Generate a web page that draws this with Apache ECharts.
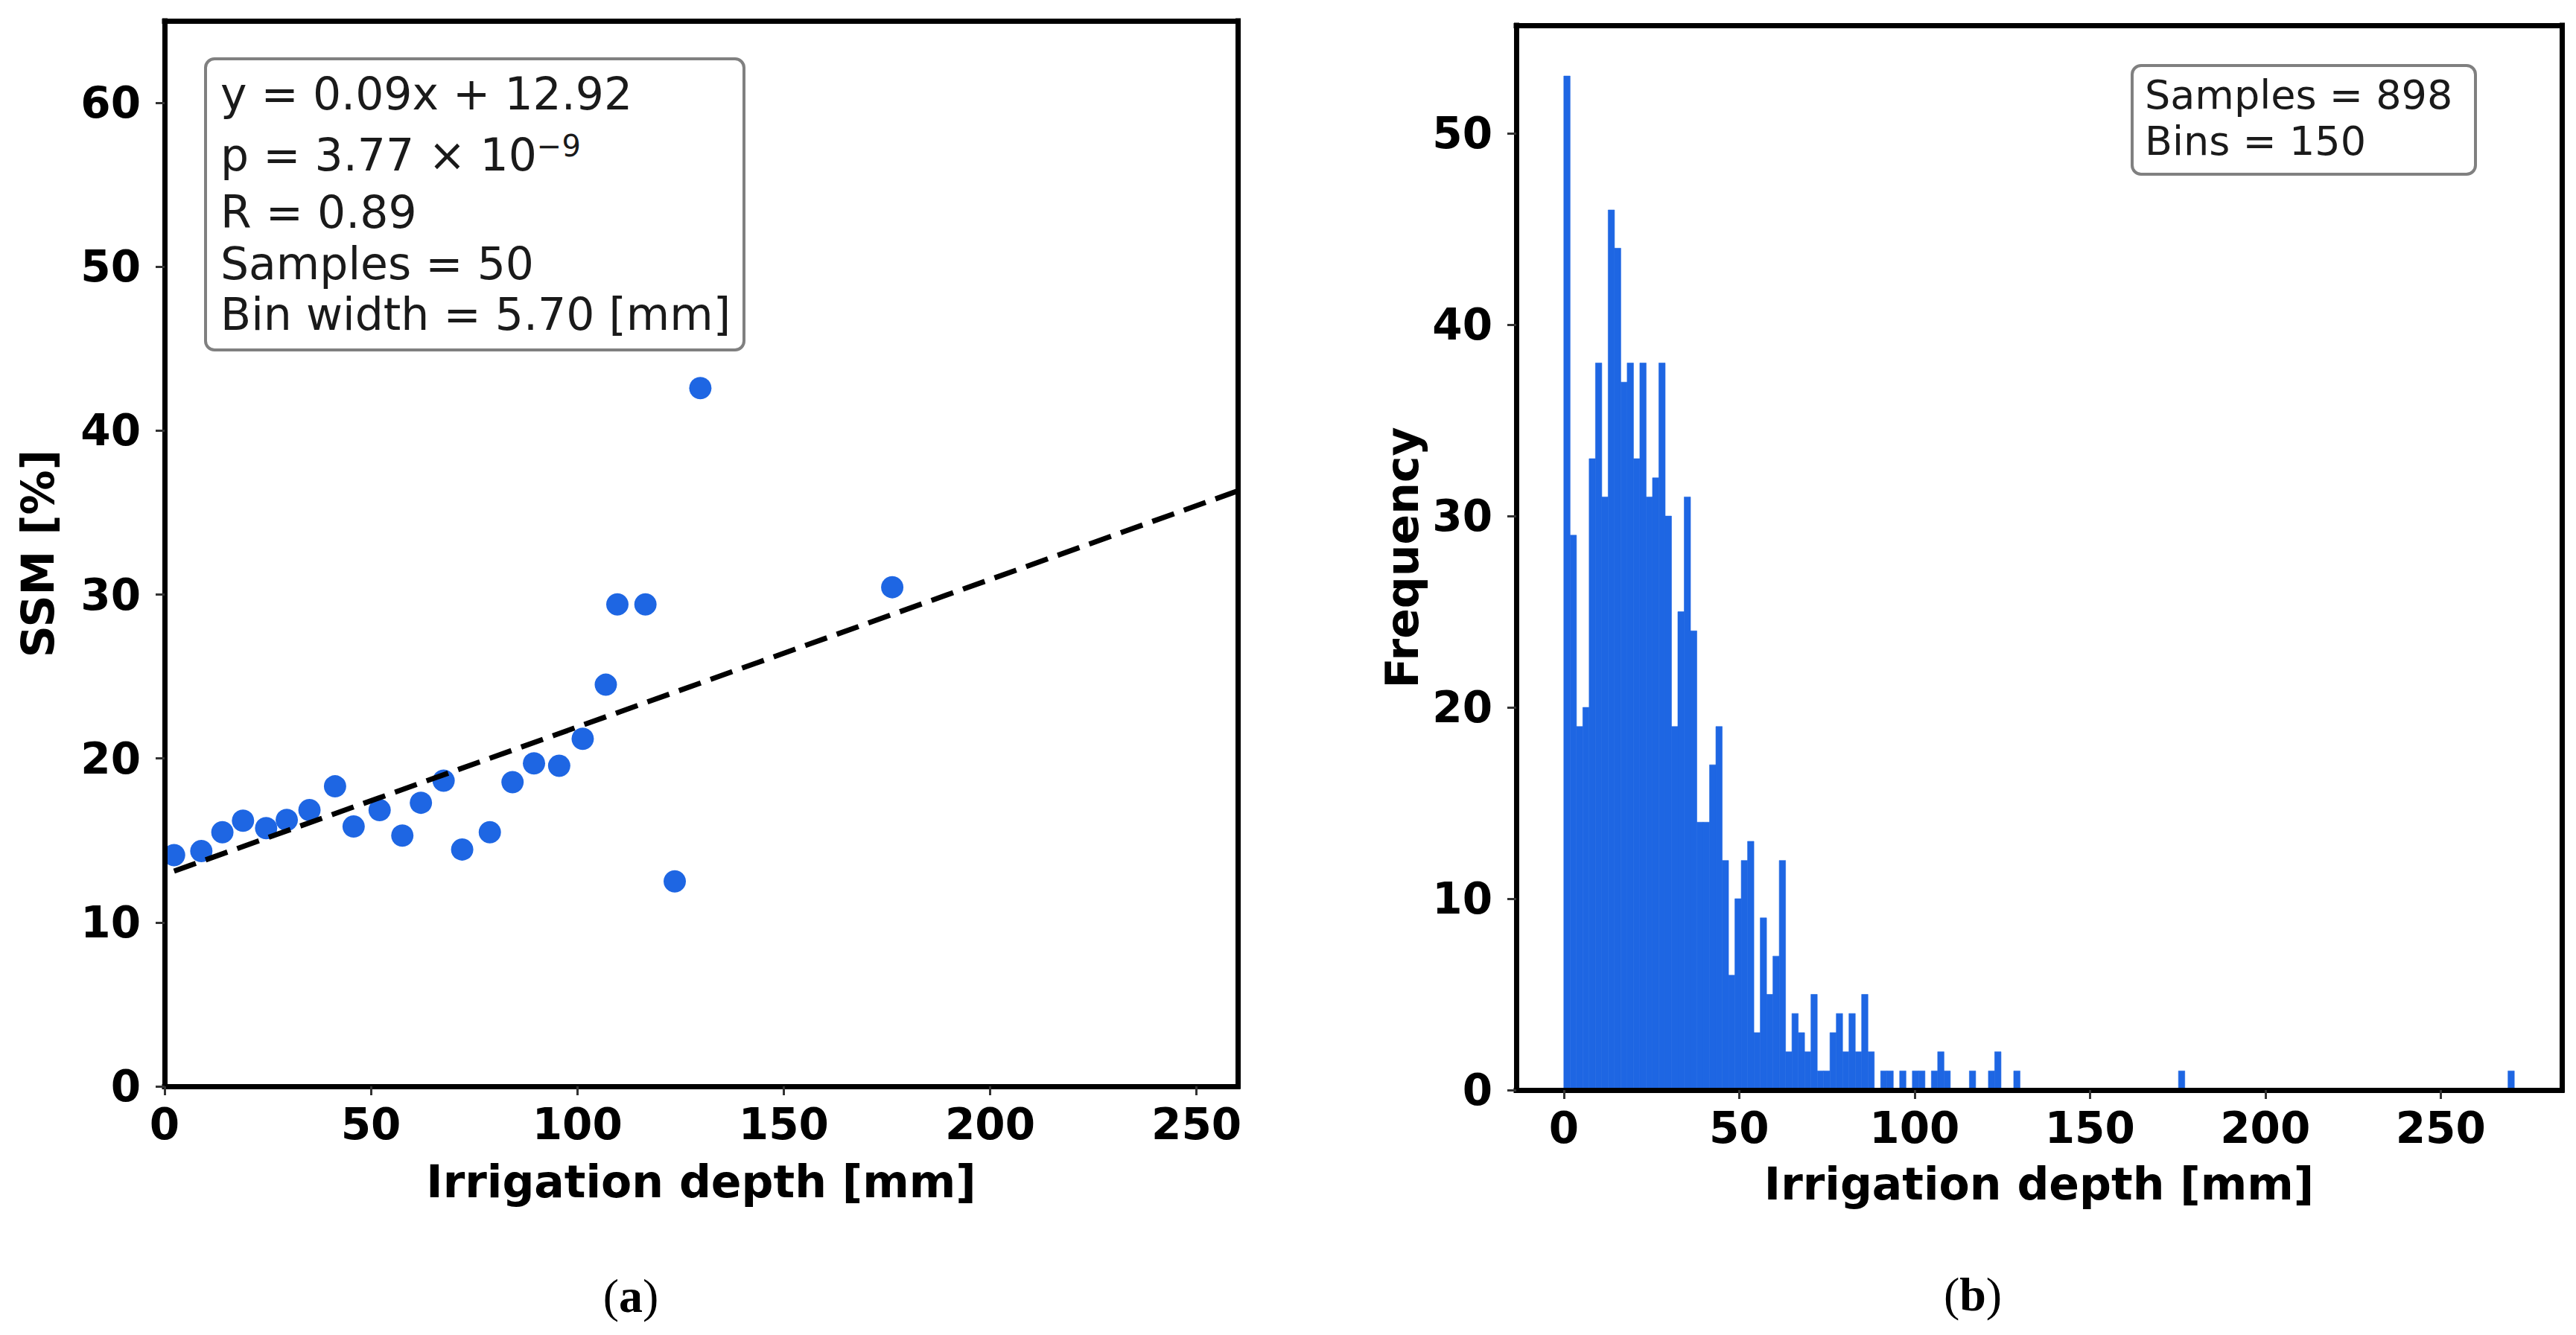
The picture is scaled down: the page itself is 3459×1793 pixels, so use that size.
<!DOCTYPE html>
<html><head><meta charset="utf-8">
<script src="https://cdn.jsdelivr.net/npm/echarts@6/dist/echarts.min.js"></script>
<style>html,body{margin:0;padding:0;background:#fff}#c{width:3459px;height:1793px}</style>
</head><body><div id="c"></div>
<script>
// ---------- Panel (a): binned SSM vs irrigation depth ----------
const scatterX = [2.3, 8.9, 14.0, 19.0, 24.6, 29.6, 35.1, 41.3, 45.8, 52.1, 57.6, 62.1, 67.6, 72.1, 78.8, 84.3, 89.5, 95.6, 101.3, 106.9, 109.7, 116.5, 123.6, 129.8, 176.3];
const scatterY = [14.1, 14.35, 15.5, 16.2, 15.75, 16.25, 16.85, 18.3, 15.85, 16.85, 15.3, 17.3, 18.65, 14.45, 15.5, 18.55, 19.7, 19.55, 21.2, 24.5, 29.4, 29.4, 12.5, 42.6, 30.45];
const fitSlope = 0.09;
const fitIntercept = 12.92;
const fitXRange = [2.3, 270];
const xTicksA = [0, 50, 100, 150, 200, 250];
const yTicksA = [0, 10, 20, 30, 40, 50, 60];
const statsA = ["y = 0.09x + 12.92", "p = 3.77 × 10", "−9", "R = 0.89", "Samples = 50", "Bin width = 5.70 [mm]"];

// ---------- Panel (b): histogram of irrigation depth ----------
const histCounts = [
  53,29,19,20,33,38,31,46,44,37,
  38,33,38,31,32,38,30,19,25,31,
  24,14,14,17,19,12,6,10,12,13,
  3,9,5,7,12,2,4,3,2,5,
  1,1,3,4,2,4,2,5,2,0,
  1,1,0,1,0,1,1,0,1,2,
  1,0,0,0,1,0,0,1,2,0,
  0,1,0,0,0,0,0,0,0,0,
  0,0,0,0,0,0,0,0,0,0,
  0,0,0,0,0,0,0,1,0,0,
  0,0,0,0,0,0,0,0,0,0,
  0,0,0,0,0,0,0,0,0,0,
  0,0,0,0,0,0,0,0,0,0,
  0,0,0,0,0,0,0,0,0,0,
  0,0,0,0,0,0,0,0,0,1
];
const histMin = 0, histMax = 271;
const xTicksB = [0, 50, 100, 150, 200, 250];
const yTicksB = [0, 10, 20, 30, 40, 50];
const statsB = ["Samples = 898", "Bins = 150"];
const captions = ["a", "b"];

// ---------- styling ----------
const BLUE = '#1e66e3';
const FONT = 'DejaVu Sans';
const tickFont = {fontSize: 58, fontWeight: 'bold', fontFamily: FONT, color: '#000'};
const nameFont = {fontSize: 60, fontWeight: 'bold', fontFamily: FONT, color: '#000'};
const frameLine = {show: true, onZero: false, lineStyle: {color: '#000', width: 7, cap: 'square'}};

function mainX(grid, min, max, ticks, name, gap) {
  return {gridIndex: grid, type: 'value', min: min, max: max, position: 'bottom', z: 5,
    axisLine: frameLine,
    axisTick: {show: true, length: 12, customValues: ticks, lineStyle: {color: '#333', width: 3}},
    axisLabel: Object.assign({customValues: ticks, margin: 22}, tickFont),
    splitLine: {show: false},
    name: name, nameLocation: 'middle', nameGap: gap, nameTextStyle: nameFont};
}
function mainY(grid, min, max, ticks, name, gap) {
  return {gridIndex: grid, type: 'value', min: min, max: max, position: 'left', z: 5,
    axisLine: frameLine,
    axisTick: {show: true, length: 12, customValues: ticks, lineStyle: {color: '#333', width: 3}},
    axisLabel: Object.assign({customValues: ticks, margin: 32}, tickFont),
    splitLine: {show: false},
    name: name, nameLocation: 'middle', nameGap: gap, nameTextStyle: nameFont};
}
function frameAxis(grid, min, max, pos) {
  return {gridIndex: grid, type: 'value', min: min, max: max, position: pos, z: 5,
    axisLine: frameLine, axisTick: {show: false}, axisLabel: {show: false}, splitLine: {show: false}};
}

const scatterData = scatterX.map((x, i) => [x, scatterY[i]]);
const fitData = fitXRange.map(x => [x, fitIntercept + fitSlope * x]);
const binW = (histMax - histMin) / histCounts.length;
const histData = [];
histCounts.forEach((c, i) => { if (c > 0) histData.push([histMin + i * binW, histMin + (i + 1) * binW, c]); });
const histPad = (histMax - histMin) * 0.05;
const histTop = Math.max.apply(null, histCounts) * 1.05;

const boxTextA = {fontFamily: FONT, fontSize: 60, fill: '#1a1a1a'};
const boxTextB = {fontFamily: FONT, fontSize: 54, fill: '#1a1a1a'};
function line(x, y, t, st) {
  return {type: 'text', x: x, y: y, z: 20,
    style: Object.assign({text: t, textAlign: 'left', textVerticalAlign: 'middle'}, st)};
}

const option = {
  backgroundColor: '#ffffff',
  animation: false,
  grid: [
    {left: 221, top: 28, width: 1441, height: 1431, show: false},
    {left: 2036, top: 34, width: 1404, height: 1430, show: false}
  ],
  xAxis: [
    mainX(0, 0, 260, xTicksA, 'Irrigation depth [mm]', 98),
    frameAxis(0, 0, 260, 'top'),
    mainX(1, -histPad, histMax + histPad, xTicksB, 'Irrigation depth [mm]', 96),
    frameAxis(1, -histPad, histMax + histPad, 'top')
  ],
  yAxis: [
    mainY(0, 0, 65, yTicksA, 'SSM [%]', 140),
    frameAxis(0, 0, 65, 'right'),
    mainY(1, 0, histTop, yTicksB, 'Frequency', 123),
    frameAxis(1, 0, histTop, 'right')
  ],
  series: [
    {type: 'scatter', xAxisIndex: 0, yAxisIndex: 0, data: scatterData,
     symbol: 'circle', symbolSize: 30, itemStyle: {color: BLUE, opacity: 1}, z: 2},
    {type: 'line', xAxisIndex: 0, yAxisIndex: 0, data: fitData, symbol: 'none', clip: true,
     lineStyle: {color: '#000', width: 7, type: [31, 14]}, z: 3},
    {type: 'custom', xAxisIndex: 2, yAxisIndex: 2, data: histData, clip: true,
     encode: {x: [0, 1], y: 2},
     renderItem: function (params, api) {
       const p0 = api.coord([api.value(0), api.value(2)]);
       const p1 = api.coord([api.value(1), 0]);
       return {type: 'rect', shape: {x: p0[0], y: p0[1], width: p1[0] - p0[0], height: p1[1] - p0[1]},
         style: {fill: BLUE, stroke: BLUE, lineWidth: 0.6}};
     }, z: 2}
  ],
  graphic: [
    {type: 'rect', z: 19, shape: {x: 276, y: 79, width: 723, height: 391, r: 12},
     style: {fill: 'rgba(255,255,255,0.85)', stroke: '#808080', lineWidth: 4}},
    line(296, 126, statsA[0], boxTextA),
    {type: 'text', x: 296, y: 208, z: 20,
     style: {text: '{m|' + statsA[1] + '}{s|' + statsA[2] + '}', textAlign: 'left', textVerticalAlign: 'middle',
       rich: {m: Object.assign({lineHeight: 64}, boxTextA),
              s: {fontFamily: FONT, fontSize: 40, fill: '#1a1a1a', lineHeight: 30, verticalAlign: 'top'}}}},
    line(296, 285, statsA[3], boxTextA),
    line(296, 354, statsA[4], boxTextA),
    line(296, 422, statsA[5], boxTextA),
    {type: 'rect', z: 19, shape: {x: 2863, y: 88, width: 461, height: 146, r: 12},
     style: {fill: 'rgba(255,255,255,0.85)', stroke: '#808080', lineWidth: 4}},
    line(2880, 127, statsB[0], boxTextB),
    line(2880, 189, statsB[1], boxTextB),
    {type: 'text', x: 847, y: 1740, z: 20,
     style: {text: '{n|(}{b|' + captions[0] + '}{n|)}', textAlign: 'center', textVerticalAlign: 'middle',
       rich: {n: {fontFamily: 'Liberation Serif', fontSize: 64, fill: '#000'},
              b: {fontFamily: 'Liberation Serif', fontSize: 64, fontWeight: 'bold', fill: '#000'}}}},
    {type: 'text', x: 2649, y: 1738, z: 20,
     style: {text: '{n|(}{b|' + captions[1] + '}{n|)}', textAlign: 'center', textVerticalAlign: 'middle',
       rich: {n: {fontFamily: 'Liberation Serif', fontSize: 64, fill: '#000'},
              b: {fontFamily: 'Liberation Serif', fontSize: 64, fontWeight: 'bold', fill: '#000'}}}}
  ]
};
const chart = echarts.init(document.getElementById('c'), null, {renderer: 'svg'});
chart.setOption(option);
</script>
</body></html>
